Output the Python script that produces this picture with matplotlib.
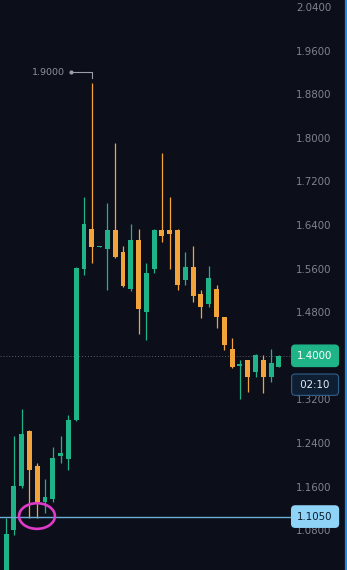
import matplotlib.pyplot as plt
import matplotlib.transforms as mtransforms
from matplotlib.patches import Arc
import numpy as np

# candle data
opens = [1.000, 1.080, 1.161, 1.262, 1.198, 1.132, 1.137, 1.216, 1.211, 1.282,
         1.559, 1.633, 1.600, 1.596, 1.631, 1.591, 1.523, 1.613, 1.480, 1.559,
         1.631, 1.631, 1.631, 1.539, 1.563, 1.513, 1.495, 1.523, 1.471, 1.413,
         1.381, 1.392, 1.370, 1.392, 1.361, 1.380]
highs = [1.102, 1.253, 1.302, 1.264, 1.203, 1.174, 1.233, 1.253, 1.291, 1.563,
         1.691, 1.900, 1.601, 1.680, 1.791, 1.602, 1.642, 1.633, 1.570, 1.632,
         1.772, 1.691, 1.632, 1.591, 1.602, 1.521, 1.565, 1.530, 1.472, 1.433,
         1.392, 1.393, 1.403, 1.402, 1.413, 1.401]
lows = [1.000, 1.071, 1.158, 1.102, 1.102, 1.112, 1.132, 1.203, 1.190, 1.280,
        1.548, 1.570, 1.599, 1.521, 1.580, 1.526, 1.519, 1.440, 1.429, 1.552,
        1.609, 1.559, 1.521, 1.530, 1.499, 1.469, 1.490, 1.451, 1.411, 1.378,
        1.321, 1.334, 1.361, 1.332, 1.352, 1.380]
closes = [1.073, 1.161, 1.257, 1.191, 1.132, 1.141, 1.213, 1.222, 1.282, 1.561,
          1.642, 1.600, 1.6005, 1.631, 1.581, 1.528, 1.613, 1.486, 1.552, 1.631,
          1.620, 1.624, 1.530, 1.563, 1.510, 1.490, 1.543, 1.471, 1.420, 1.380,
          1.385, 1.361, 1.402, 1.361, 1.387, 1.400]

yticks = [1.08, 1.16, 1.24, 1.32, 1.40, 1.48, 1.56, 1.64, 1.72, 1.80, 1.88, 1.96, 2.04]
last_price = 1.4000
countdown = "02:10"
hline_price = 1.1050
peak_label = "1.9000"

BG = "#0c0f1a"
UP = "#1fb488"
DOWN = "#f2a43a"

fig = plt.figure(figsize=(3.47, 5.70), dpi=100, facecolor=BG)
ax = fig.add_axes([0, 0, 1, 1])
ax.set_facecolor(BG)

x = np.arange(len(opens))
o = np.array(opens)
c = np.array(closes)
h = np.array(highs)
l = np.array(lows)
cols = [UP if cc >= oo else DOWN for oo, cc in zip(o, c)]

ax.vlines(x, l, h, colors=cols, linewidth=0.9, zorder=2)
body_lo = np.minimum(o, c)
body_h = np.maximum(np.abs(c - o), 0.002)
ax.bar(x, body_h, bottom=body_lo, width=0.64, color=cols, linewidth=0, zorder=2)

for s in ax.spines.values():
    s.set_visible(False)
ax.set_xticks([])
ax.yaxis.tick_right()
ax.set_yticks(yticks)
ax.set_yticklabels([f"{t:.4f}" for t in yticks])
ax.tick_params(axis="y", length=0, pad=-36.5, labelsize=7.4, labelcolor="#7f838e")

ax.set_xlim(-0.77, 43.72)
ax.set_ylim(1.007, 2.0528)

trans = mtransforms.blended_transform_factory(ax.transAxes, ax.transData)

# price lines
ax.axhline(last_price, xmax=0.835, color="#5a5f6b", linestyle=(0, (1, 2)), linewidth=0.7, zorder=1)
ax.axhline(hline_price, xmax=0.84, color="#6aaed6", linewidth=1.0, zorder=3)

# badges
ax.text(0.908, last_price, f"{last_price:.4f}", transform=trans, ha="center", va="center",
        fontsize=7.4, color="white", zorder=5,
        bbox=dict(boxstyle="round,pad=0.55,rounding_size=0.35", fc=UP, ec=UP))
ax.text(0.908, last_price - 0.053, f" {countdown} ", transform=trans, ha="center", va="center",
        fontsize=7.4, color="#e8ecf2", zorder=5,
        bbox=dict(boxstyle="round,pad=0.55,rounding_size=0.35", fc="#0f1f33", ec="#2f5f8c", lw=0.8))
ax.text(0.908, hline_price, f"{hline_price:.4f}", transform=trans, ha="center", va="center",
        fontsize=7.4, color="#0c1a2a", zorder=5,
        bbox=dict(boxstyle="round,pad=0.55,rounding_size=0.35", fc="#8fd3f7", ec="#8fd3f7"))

# peak marker for the high
pk = int(np.argmax(h))
ax.text(pk - 5.5, h[pk] + 0.0205, peak_label, ha="center", va="center", fontsize=6.8,
        color="#8d919b", zorder=4)
ax.plot([pk - 2.7, pk, pk], [h[pk] + 0.0205, h[pk] + 0.0205, h[pk] + 0.01],
        color="#9a9ea8", linewidth=0.8, zorder=4)
ax.plot([pk - 2.7], [h[pk] + 0.0205], marker="o", markersize=2, color="#9a9ea8", zorder=4)

# hand-drawn magenta loop
ax.add_patch(Arc((3.97, 1.106), 4.6, 0.047, angle=0, theta1=40, theta2=395,
                 color="#e03ac8", linewidth=1.9, zorder=6))

# right-edge selection border
ax.axvline(43.55, color="#1e8fe8", linewidth=1.6, zorder=6)

fig.savefig("out.png", dpi=100, facecolor=BG)
